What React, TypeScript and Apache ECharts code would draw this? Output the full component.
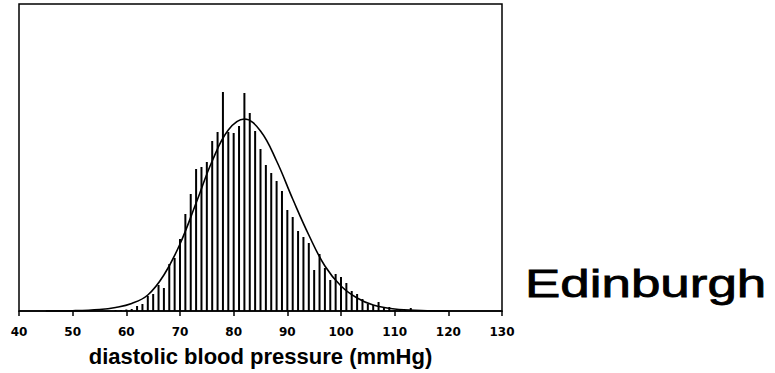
import React, { useEffect, useRef } from "react";
import * as echarts from "echarts";

// diastolic blood pressure values (mmHg)
const bpValues = [
  58, 59, 60, 61, 62, 63, 64, 65, 66, 67, 68, 69, 70, 71, 72, 73, 74, 75, 76, 77, 78, 79,
  80, 81, 82, 83, 84, 85, 86, 87, 88, 89, 90, 91, 92, 93, 94, 95, 96, 97, 98, 99,
  100, 101, 102, 103, 104, 105, 106, 107, 108, 109, 110, 111, 112, 113, 114,
];
// relative frequency (bar heights)
const frequencies = [
  1, 1, 1.5, 2, 5, 7, 15, 17, 26, 23, 47, 53, 72, 97, 117, 142, 144, 149, 170, 179, 219, 179,
  178, 185, 218, 198, 180, 162, 146, 138, 130, 120, 101, 94, 80, 74, 68, 41, 57, 43, 31, 37,
  34, 28, 20, 17, 12, 7, 6, 9, 4, 4, 1, 2, 1, 3, 1,
];
// fitted density curve
const curveX = [45, 50, 55, 58, 61, 64, 67, 70, 73, 76, 79, 82, 85, 88, 91, 94, 97, 100, 103, 106, 110, 115, 120];
const curveY = [0, 0.3, 1.5, 3.5, 7.5, 16, 36, 67, 108, 150, 181, 192, 180, 150, 112, 76, 45, 25, 13, 6, 2, 0.5, 0];

const xTicks = [40, 50, 60, 70, 80, 90, 100, 110, 120, 130];
const axisTitle = "diastolic blood pressure (mmHg)";
const cityLabel = "Edinburgh";

export default function App() {
  const ref = useRef<HTMLDivElement>(null);
  useEffect(() => {
    if (!ref.current) return;
    const chart = echarts.init(ref.current, undefined, { renderer: "svg" });
    chart.setOption({
      animation: false,
      backgroundColor: "#fff",
      grid: {
        left: 19,
        right: 273,
        top: 4,
        bottom: 62,
        show: true,
        borderColor: "#000",
        borderWidth: 1.5,
        containLabel: false,
      },
      xAxis: {
        type: "value",
        min: xTicks[0],
        max: xTicks[xTicks.length - 1],
        interval: 10,
        splitLine: { show: false },
        axisLine: { show: true, lineStyle: { color: "#000", width: 1.5 } },
        axisTick: { show: true, inside: false, length: 5, lineStyle: { color: "#000", width: 1.5 } },
        axisLabel: {
          color: "#000",
          fontSize: 12,
          fontWeight: "bold",
          fontFamily: "DejaVu Sans",
          margin: 15,
        },
        name: axisTitle,
        nameLocation: "middle",
        nameGap: 34,
        nameTextStyle: {
          color: "#000",
          fontSize: 22,
          fontWeight: "bold",
          fontFamily: "Liberation Sans",
        },
      },
      yAxis: {
        type: "value",
        min: 0,
        max: 307,
        show: false,
        splitLine: { show: false },
      },
      series: [
        {
          type: "bar",
          data: bpValues.map((v, i) => [v, frequencies[i]]),
          barWidth: 2,
          itemStyle: { color: "#000" },
          silent: true,
        },
        {
          type: "line",
          data: curveX.map((v, i) => [v, curveY[i]]),
          smooth: 0.4,
          showSymbol: false,
          symbol: "none",
          lineStyle: { color: "#000", width: 1.6 },
          silent: true,
        },
      ],
      graphic: [
        {
          type: "text",
          x: 525,
          y: 283,
          scaleX: 1.34,
          style: {
            text: cityLabel,
            fontSize: 39.5,
            fontFamily: "Liberation Sans",
            fill: "#000",
            stroke: "#000",
            lineWidth: 0.8,
            align: "left",
            verticalAlign: "middle",
          },
        },
      ],
    });
    return () => chart.dispose();
  }, []);
  return <div ref={ref} style={{ width: 775, height: 373, position: "absolute", left: 0, top: 0 }} />;
}
